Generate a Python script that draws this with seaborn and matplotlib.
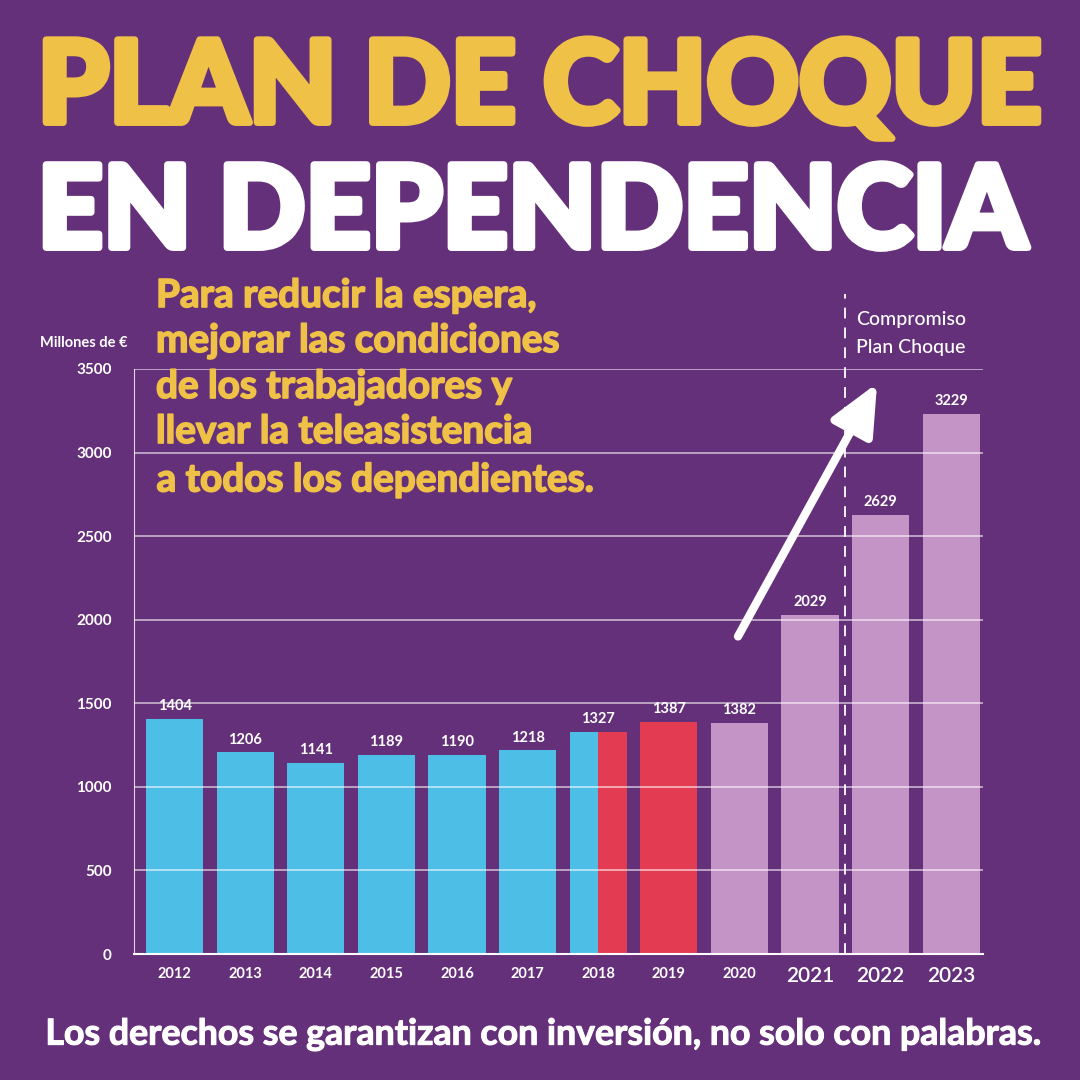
import numpy as np
import pandas as pd
import seaborn as sns
import matplotlib.pyplot as plt
import matplotlib.patheffects as pe

# data (millones de euros)
years = ['2012', '2013', '2014', '2015', '2016', '2017', '2018',
         '2019', '2020', '2021', '2022', '2023']
values = [1404, 1206, 1141, 1189, 1190, 1218, 1327, 1387, 1382, 2029, 2629, 3229]
periods = ['pp', 'pp', 'pp', 'pp', 'pp', 'pp', 'pp',
           'psoe', 'plan', 'plan', 'plan', 'plan']
split_year = '2018'        # half pp / half psoe
big_years = ['2021', '2022', '2023']
commit_from = '2022'       # "Compromiso Plan Choque"

title_1 = 'PLAN DE CHOQUE'
title_2 = 'EN DEPENDENCIA'
subtitle = ['Para reducir la espera,',
            'mejorar las condiciones',
            'de los trabajadores y',
            'llevar la teleasistencia',
            'a todos los dependientes.']
footer = 'Los derechos se garantizan con inversión, no solo con palabras.'

BG = '#65307A'
YELLOW = '#EFC146'
period_colors = {'pp': '#4DBFE6', 'psoe': '#E33C52', 'plan': '#C594C6'}

sns.set_theme(style='white')
plt.rcParams['font.family'] = ['Lato', 'DejaVu Sans']

df = pd.DataFrame({'year': years, 'value': values, 'period': periods})

fig = plt.figure(figsize=(10.8, 10.8), dpi=100, facecolor=BG)
ax = fig.add_axes([134 / 1080, 1 - 954 / 1080, 849 / 1080, 585 / 1080])
ax.set_facecolor(BG)

bar_w = 0.81
sns.barplot(data=df, x='year', y='value', hue='period', palette=period_colors,
            dodge=False, width=bar_w, saturation=1, legend=False,
            linewidth=0, edgecolor='none', ax=ax)

# 2018: right half in red
i18 = years.index(split_year)
ax.bar(i18 + bar_w / 4, values[i18], width=bar_w / 2,
       color=period_colors['psoe'], linewidth=0, zorder=2)

ax.set_ylim(0, 3500)
ax.set_xlim(-0.575, 11.45)
ax.set_yticks(np.arange(0, 3501, 500))
ax.set_xlabel('')
ax.set_ylabel('')
ax.yaxis.grid(True, color='white', lw=1.1, alpha=0.7)
ax.set_axisbelow(False)
for s in ['top', 'right']:
    ax.spines[s].set_visible(False)
ax.spines['left'].set_color('white')
ax.spines['left'].set_linewidth(0.8)
ax.spines['left'].set_alpha(0.8)
ax.spines['bottom'].set_color('white')
ax.spines['bottom'].set_linewidth(1.5)
ax.tick_params(axis='y', length=0, pad=16, labelcolor='white', labelsize=11)
ax.tick_params(axis='x', length=0, pad=9, labelcolor='white')
for lab in ax.get_yticklabels():
    lab.set_fontweight('bold')
for lab in ax.get_xticklabels():
    if lab.get_text() in big_years:
        lab.set_fontsize(15)
        lab.set_fontweight('semibold')
    else:
        lab.set_fontsize(10.5)
        lab.set_fontweight('bold')

# value labels
for i, v in enumerate(values):
    ax.text(i, v + 35, str(v), ha='center', va='bottom', color='white',
            fontsize=10.5, fontweight='bold')

# dashed separator before the commitment years
xc = years.index(commit_from) - 0.5
ax.axvline(xc, ymin=0, ymax=1.128, color='white', lw=1.3,
           ls=(0, (6, 5)), clip_on=False)

# arrow
ax.annotate('', xy=(9.95, 3415), xytext=(7.98, 1900),
            arrowprops=dict(arrowstyle='-|>,head_length=1.1,head_width=0.5',
                            color='white', lw=6, mutation_scale=28,
                            shrinkA=0, shrinkB=0, capstyle='round'),
            annotation_clip=False)

fig.text(856 / 1080, 1 - 320 / 1080, 'Compromiso', color='white',
         fontsize=14, fontweight='medium', ha='left', va='center')
fig.text(856 / 1080, 1 - 347 / 1080, 'Plan Choque', color='white',
         fontsize=14, fontweight='medium', ha='left', va='center')
fig.text(40 / 1080, 1 - 343 / 1080, 'Millones de €', color='white',
         fontsize=10.5, fontweight='bold', ha='left', va='center')

# titles and texts, fitted to widths measured on the reference
def fitted(x0, x1, y_base, s, color, fs, weight, stroke=0):
    t = fig.text(x0 / 1080, 1 - y_base / 1080, s, color=color, fontsize=fs,
                 fontweight=weight, ha='left', va='baseline')
    fig.canvas.draw()
    w = t.get_window_extent(fig.canvas.get_renderer()).width
    t.set_fontsize(fs * (x1 - x0 - stroke) / w)
    if stroke:
        t.set_position(((x0 + stroke / 2) / 1080, 1 - (y_base - stroke / 2) / 1080))
        t.set_path_effects([pe.withStroke(linewidth=stroke, foreground=color)])
    return t

fitted(35, 1045, 125, title_1, YELLOW, 90, 'black', stroke=5)
fitted(35, 1030, 250, title_2, 'white', 90, 'black', stroke=5)

sub_base = [307, 352, 398, 443, 492]
t5 = fitted(156, 595, sub_base[-1], subtitle[-1], YELLOW, 25, 'bold', stroke=1.2)
sub_fs = t5.get_fontsize()
for s, yb in zip(subtitle[:-1], sub_base[:-1]):
    fig.text(156 / 1080, 1 - yb / 1080, s, color=YELLOW, fontsize=sub_fs,
             fontweight='bold', ha='left', va='baseline',
             path_effects=[pe.withStroke(linewidth=1.2, foreground=YELLOW)])

fitted(45, 1040, 1045, footer, 'white', 22, 'bold', stroke=0.8)

fig.savefig('out.png', dpi=100, facecolor=BG)
